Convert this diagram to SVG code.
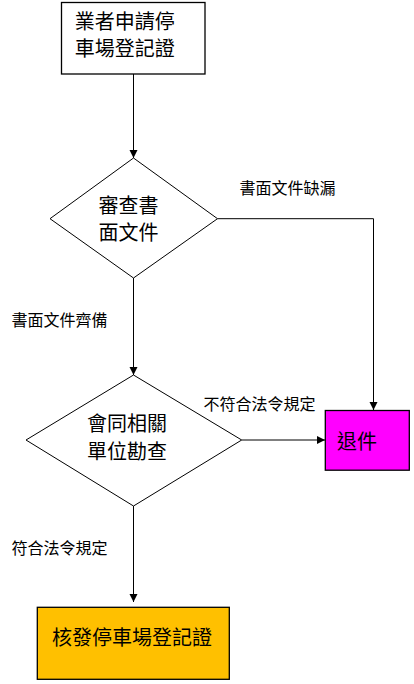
<svg xmlns="http://www.w3.org/2000/svg" width="414" height="684" viewBox="0 0 414 684">
<style>
.box{stroke:#000;stroke-width:1.3}
.dia{fill:#fff;stroke:#000;stroke-width:1}
.t{font-family:"Noto Sans CJK TC","Noto Sans CJK SC",sans-serif;font-size:20px;fill:#000;text-anchor:middle}
.l{font-family:"Noto Sans CJK TC","Noto Sans CJK SC",sans-serif;font-size:16px;fill:#000;text-anchor:middle}
.c{fill:none;stroke:#000;stroke-width:1}
</style>
<defs>
<marker id="arr" markerUnits="userSpaceOnUse" markerWidth="10" markerHeight="10" viewBox="0 0 10 10" refX="8" refY="4" orient="auto">
<path d="M0,0 L8,4 L0,8 Z" fill="#000"/>
</marker>
</defs>
<rect width="414" height="684" fill="#fff"/>
<g id="connectors">
<path class="c" d="M133.5,74 V158" marker-end="url(#arr)"/>
<path class="c" d="M217.5,218.7 H373.5 V410" marker-end="url(#arr)"/>
<path class="c" d="M133.5,278 V375" marker-end="url(#arr)"/>
<path class="c" d="M241.7,440 H325" marker-end="url(#arr)"/>
<path class="c" d="M133.5,506 V602" marker-end="url(#arr)"/>
<text class="l" x="287.5" y="194.4">書面文件缺漏</text>
<text class="l" x="59.5" y="326">書面文件齊備</text>
<text class="l" x="259.5" y="409.8">不符合法令規定</text>
<text class="l" x="59.5" y="554">符合法令規定</text>
</g>
<g id="apply">
<rect class="box" x="61.5" y="2.5" width="143.5" height="71.5" fill="#fff"/>
<text class="t" x="124.7" y="29">業者申請停</text>
<text class="t" x="124.7" y="56.3">車場登記證</text>
</g>
<g id="review">
<polygon class="dia" points="133.5,158 217.5,218.7 133.5,278 50,218.7"/>
<text class="t" x="128.5" y="213">審查書</text>
<text class="t" x="128.5" y="240.3">面文件</text>
</g>
<g id="inspect">
<polygon class="dia" points="133.5,375 241.7,440 133.5,506 26,440"/>
<text class="t" x="127" y="431.3">會同相關</text>
<text class="t" x="127" y="458.8">單位勘查</text>
</g>
<g id="reject">
<rect class="box" x="325.3" y="410.5" width="84" height="59.7" fill="#ff00ff"/>
<text class="t" x="357" y="448.6">退件</text>
</g>
<g id="issue">
<rect class="box" x="37.3" y="607.3" width="192" height="72" fill="#ffc000"/>
<text class="t" x="132" y="644.6">核發停車場登記證</text>
</g>
</svg>
